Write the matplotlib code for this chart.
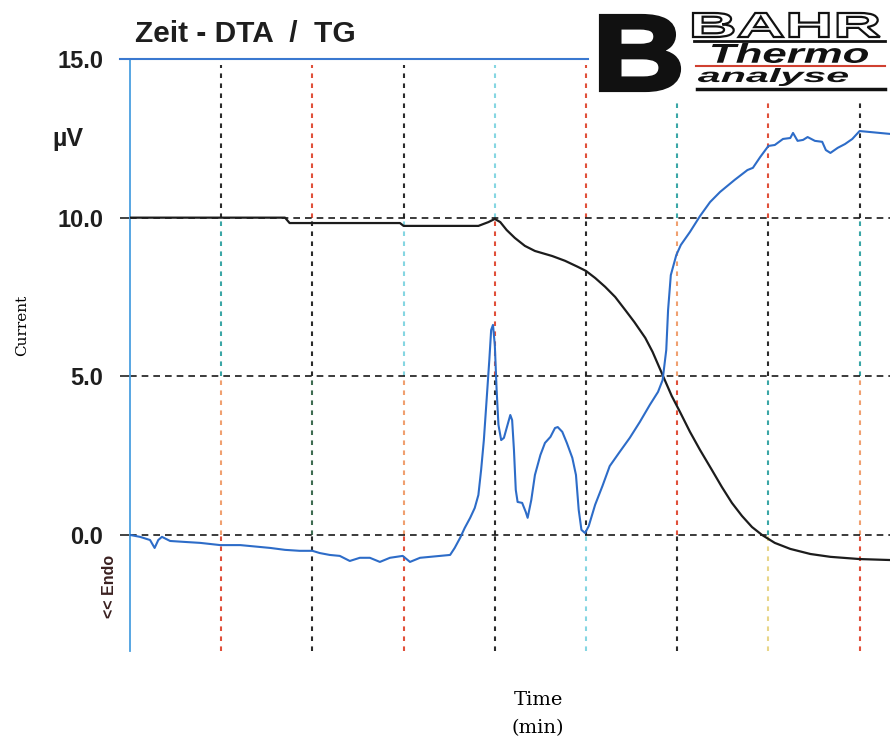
import numpy as np
import matplotlib.pyplot as plt
from matplotlib.textpath import TextPath
from matplotlib.font_manager import FontProperties
from matplotlib.patches import PathPatch
from matplotlib.transforms import Affine2D

plt.rcParams['font.family'] = ['Liberation Sans', 'DejaVu Sans']

# DTA signal (blue), time in grid units, uV
dta_t = [0.00, 0.11, 0.22, 0.27, 0.31, 0.35, 0.44, 0.60, 0.77, 0.99, 1.21, 1.32,
         1.54, 1.70, 1.86, 2.00, 2.08, 2.19, 2.30, 2.41, 2.52, 2.63, 2.74, 2.85,
         2.99, 3.07, 3.18, 3.29, 3.40, 3.51, 3.56, 3.62, 3.67, 3.73, 3.78, 3.82,
         3.85, 3.88, 3.91, 3.94, 3.96, 3.98, 4.00, 4.02, 4.04, 4.07, 4.10, 4.13,
         4.17, 4.19, 4.21, 4.23, 4.25, 4.30, 4.34, 4.36, 4.40, 4.44, 4.50, 4.55,
         4.61, 4.66, 4.69, 4.74, 4.79, 4.85, 4.89, 4.92, 4.95, 4.99, 5.03, 5.10,
         5.18, 5.26, 5.37, 5.48, 5.59, 5.70, 5.79, 5.84, 5.88, 5.90, 5.93, 5.99,
         6.04, 6.14, 6.25, 6.36, 6.47, 6.63, 6.77, 6.83, 6.91, 7.00, 7.07, 7.16,
         7.24, 7.27, 7.32, 7.38, 7.43, 7.51, 7.59, 7.63, 7.68, 7.76, 7.84, 7.92,
         8.00, 8.11, 8.22, 8.33]
dta_v = [0.00, -0.06, -0.16, -0.41, -0.16, -0.06, -0.19, -0.22, -0.25, -0.32, -0.32, -0.35,
         -0.41, -0.47, -0.50, -0.50, -0.57, -0.63, -0.66, -0.82, -0.72, -0.72, -0.85, -0.72,
         -0.66, -0.85, -0.72, -0.69, -0.66, -0.63, -0.41, -0.09, 0.22, 0.54, 0.85, 1.26,
         2.05, 2.99, 4.25, 5.52, 6.46, 6.62, 5.99, 4.57, 3.47, 2.99, 3.06, 3.37,
         3.78, 3.62, 2.68, 1.42, 1.04, 1.01, 0.72, 0.54, 1.10, 1.89, 2.52, 2.90,
         3.09, 3.37, 3.40, 3.25, 2.90, 2.43, 1.89, 0.79, 0.16, 0.06, 0.28, 0.95,
         1.54, 2.17, 2.62, 3.06, 3.56, 4.10, 4.51, 4.88, 5.83, 7.09, 8.19, 8.82,
         9.14, 9.55, 10.05, 10.49, 10.81, 11.19, 11.50, 11.57, 11.91, 12.26, 12.29, 12.48,
         12.51, 12.67, 12.42, 12.45, 12.54, 12.42, 12.39, 12.13, 12.04, 12.20, 12.32, 12.48,
         12.73, 12.70, 12.67, 12.64]

# TG signal (black)
tg_t = [0.00, 1.70, 1.75, 2.96, 3.00, 3.82, 3.93, 4.00, 4.06, 4.13, 4.22, 4.33,
        4.44, 4.63, 4.77, 4.91, 5.00, 5.10, 5.21, 5.32, 5.43, 5.53, 5.65, 5.73,
        5.84, 5.94, 6.03, 6.14, 6.25, 6.38, 6.49, 6.60, 6.71, 6.82, 6.93, 7.07,
        7.24, 7.46, 7.68, 8.00, 8.33]
tg_v = [10.00, 10.00, 9.83, 9.83, 9.74, 9.74, 9.86, 9.96, 9.86, 9.61, 9.36, 9.11,
        8.95, 8.79, 8.64, 8.45, 8.32, 8.10, 7.82, 7.50, 7.09, 6.71, 6.21, 5.77,
        5.04, 4.38, 3.88, 3.25, 2.68, 2.05, 1.51, 1.01, 0.60, 0.25, 0.00, -0.25,
        -0.44, -0.60, -0.69, -0.76, -0.79]

y_ticks = [0.0, 5.0, 10.0, 15.0]
y_labels = ['0.0', '5.0', '10.0', '15.0']
x_grid = [1, 2, 3, 4, 5, 6, 7, 8]

ymin = 15 - (651 - 59) / 31.73

fig = plt.figure(figsize=(8.9, 7.39), dpi=100)
ax = fig.add_axes([130/890, 1 - 651/739, 1 - 130/890, (651 - 59)/739])
ax.set_xlim(0, 760/91.2)
ax.set_ylim(ymin, 15)
for s in ['top', 'right', 'bottom']:
    ax.spines[s].set_visible(False)
ax.spines['left'].set_color('#4a9fe0')
ax.spines['left'].set_linewidth(1.3)
ax.set_xticks([])
ax.set_yticks(y_ticks, y_labels)
ax.tick_params(axis='y', length=7.2, width=1.2, color='#222222', pad=12, labelsize=17)
for lab in ax.get_yticklabels():
    lab.set_fontweight('bold')
    lab.set_color('#1e1e1e')

# scanned grid: vertical dashed lines change colour between bands
dark, teal, red, orange = '#2b2b2b', '#3aa6a6', '#e0503a', '#f0a070'
cyan, yellow, green = '#86d6e2', '#e8d68a', '#3d6b50'
vcolors = [
    [dark, teal, orange, red],
    [red, dark, green, dark],
    [dark, cyan, orange, red],
    [cyan, red, dark, dark],
    [red, dark, dark, cyan],
    [teal, orange, red, dark],
    [red, dark, teal, yellow],
    [dark, teal, orange, red],
]
bands = [(10, 14.8), (5, 10), (0, 5), (ymin, 0)]
for i, gx in enumerate(x_grid):
    for j, (lo, hi) in enumerate(bands):
        if j == 0 and gx >= 6:
            hi = 13.65
        ax.plot([gx, gx], [lo, hi], color=vcolors[i][j], lw=1.5, dashes=(2.2, 2.6), zorder=2)
for gy in [0, 5, 10]:
    ax.axhline(gy, color='#1a1a1a', lw=1.2, dashes=(4, 3), zorder=2)
ax.plot([-0.11, 5.02], [15, 15], color='#3a78d0', lw=1.5, clip_on=False, zorder=3)

ax.plot(tg_t, tg_v, color='#1c1c1c', lw=1.6, zorder=4)
ax.plot(dta_t, dta_v, color='#2d6cc8', lw=1.5, zorder=5)

# decorations in pixel coordinates
deco = fig.add_axes([0, 0, 1, 1], zorder=10)
deco.set_xlim(0, 890)
deco.set_ylim(739, 0)
deco.axis('off')
deco.patch.set_alpha(0)


def fit_text(s, x0, y0, x1, y1, prop, **kw):
    tp = TextPath((0, 0), s, size=50, prop=prop)
    bb = tp.get_extents()
    tr = (Affine2D().translate(-bb.x0, -bb.y0)
          .scale((x1 - x0) / bb.width, -(y1 - y0) / bb.height)
          .translate(x0, y1))
    deco.add_patch(PathPatch(tr.transform_path(tp), **kw))


bold = FontProperties(family='Liberation Sans', weight='bold')
bital = FontProperties(family='Liberation Sans', weight='bold', style='italic')
fit_text('B', 601, 16, 679, 90, bold, fc='#111111', ec='#111111', lw=3)
fit_text('BAHR', 693, 13, 880, 37, bold, fc='white', ec='#111111', lw=1.6)
deco.plot([694, 885], [41, 41], color='#111111', lw=2)
fit_text('Thermo', 712, 43, 868, 63, bital, fc='#111111', ec='none')
deco.plot([696, 885], [66, 66], color='#d04030', lw=1.5)
fit_text('analyse', 698, 68, 848, 86, bital, fc='#111111', ec='none')
deco.plot([697, 885], [88.5, 88.5], color='#111111', lw=2.5)

deco.text(135, 34, 'Zeit - DTA  /  TG', fontsize=21.5, fontweight='bold',
          color='#1e1e1e', ha='left', va='center')
deco.text(52, 139, 'µV', fontsize=18, fontweight='bold', color='#1e1e1e',
          ha='left', va='center')
deco.text(22, 325, 'Current', rotation=90, family='DejaVu Serif', fontsize=11,
          ha='center', va='center')
deco.text(110, 586, '<< Endo', rotation=90, fontsize=11.5, fontweight='bold',
          color='#3a2020', ha='center', va='center')
deco.text(538, 700, 'Time', family='DejaVu Serif', fontsize=14, ha='center', va='center')
deco.text(538, 728, '(min)', family='DejaVu Serif', fontsize=14, ha='center', va='center')

fig.savefig('out.png', dpi=100)
